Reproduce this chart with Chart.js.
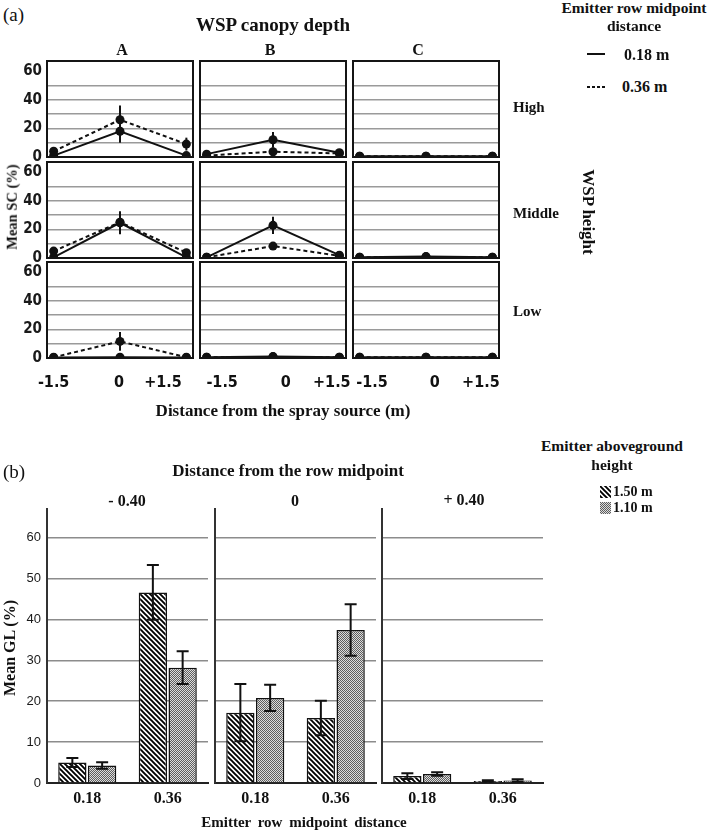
<!DOCTYPE html>
<html><head><meta charset="utf-8">
<script src="https://cdn.jsdelivr.net/npm/chart.js@4.4.1/dist/chart.umd.min.js"></script>
<style>
html,body{margin:0;padding:0;background:#fff;}
#wrap{position:relative;width:709px;height:832px;overflow:hidden;background:#fff;}
.t{position:absolute;font-family:"Liberation Serif","Times New Roman",serif;font-weight:bold;color:#111;white-space:nowrap;line-height:1;}
canvas.c{position:absolute;}
.ln{position:absolute;height:2px;}
</style></head><body><div id="wrap"></div>
<script>
// ---------------- DATA (a) ----------------
const depthCols = ['A', 'B', 'C'];
const heightRows = ['High', 'Middle', 'Low'];
const xPositions = [-1.5, 0, 1.5];
const xTickLabels = ['-1.5', '0', '+1.5'];
const yTickLabelsA = [0, 20, 40, 60];
// Mean SC (%) per row (High, Middle, Low), per column (A, B, C), per position (-1.5, 0, +1.5)
const sc018 = [
  [[1, 18, 1], [2, 12, 3], [0.5, 0.5, 0.5]],
  [[0.5, 24.6, 0.5], [0.5, 22.8, 2], [0.5, 1, 0.5]],
  [[0.3, 0.5, 0.3], [0.5, 1, 0.5], [0.5, 0.5, 0.5]]
];
const sc018err = [
  [[0, 8, 0], [0, 5.5, 0], [0, 0, 0]],
  [[0, 8, 0], [0, 6, 0], [0, 0, 0]],
  [[0, 0, 0], [0, 0, 0], [0, 0, 0]]
];
const sc036 = [
  [[4, 26, 9], [1, 3.7, 2.5], [0.5, 0.5, 0.5]],
  [[4.8, 25, 3.7], [0.5, 8.3, 1.5], [0.5, 0.8, 0.5]],
  [[0.5, 11.6, 0.5], [0.5, 0.8, 0.5], [0.5, 0.5, 0.5]]
];
const sc036err = [
  [[0, 10, 4.5], [0, 0, 0], [0, 0, 0]],
  [[0, 7, 0], [0, 2.8, 0], [0, 0, 0]],
  [[0, 6.5, 0], [0, 0, 0], [0, 0, 0]]
];
const lineSeriesLabels = ['0.18 m', '0.36 m'];
// ---------------- DATA (b) ----------------
const groupLabels = ['- 0.40', '0', '+ 0.40'];
const distCats = ['0.18', '0.36'];
const barSeriesLabels = ['1.50 m', '1.10 m'];
const gl150 = [[5.0, 46.6], [17.2, 15.9], [1.7, 0.5]];
const gl150err = [[1.1, 6.7], [7.0, 4.2], [0.7, 0.2]];
const gl110 = [[4.3, 28.2], [20.8, 37.4], [2.2, 0.6]];
const gl110err = [[0.8, 4.0], [3.2, 6.3], [0.4, 0.3]];

// ---------------- style / layout constants ----------------
// horizontal nudge (in axis units) of the x tick labels, per panel column, as placed in the original figure
const xLabelNudge = [[0, -0.02, -0.53], [0.35, 0.29, -0.17], [0.28, 0.2, -0.26]];

// ---------------- helpers ----------------
const wrap = document.getElementById('wrap');
const NARROW = '"Liberation Sans Narrow","DejaVu Sans Condensed","Liberation Sans",sans-serif';
const SERIF = '"Liberation Serif","Times New Roman",serif';
function T(text, x, y, size, opt) {
  opt = opt || {};
  const d = document.createElement('div');
  d.className = 't';
  d.textContent = text;
  d.style.fontSize = size + 'px';
  if (opt.normal) d.style.fontWeight = 'normal';
  if (opt.ws) d.style.wordSpacing = opt.ws + 'px';
  d.style.left = x + 'px';
  d.style.top = y + 'px';
  let tr = opt.left ? 'translate(0,-50%)' : 'translate(-50%,-50%)';
  if (opt.rot) tr += ' rotate(' + opt.rot + 'deg)';
  d.style.transform = tr;
  wrap.appendChild(d);
  return d;
}
function makeCanvas(left, top, w, h) {
  const c = document.createElement('canvas');
  c.className = 'c';
  c.width = w; c.height = h;
  c.style.left = left + 'px'; c.style.top = top + 'px';
  c.style.width = w + 'px'; c.style.height = h + 'px';
  wrap.appendChild(c);
  return c;
}
function hatchPattern() {
  const s = 5, c = document.createElement('canvas');
  c.width = s; c.height = s;
  const x = c.getContext('2d');
  x.fillStyle = '#fff'; x.fillRect(0, 0, s, s);
  x.strokeStyle = '#000'; x.lineWidth = 1.9;
  x.beginPath();
  x.moveTo(-1, -1); x.lineTo(s + 1, s + 1);
  x.moveTo(s - 1, -1); x.lineTo(s + 1, 1);
  x.moveTo(-1, s - 1); x.lineTo(1, s + 1);
  x.stroke();
  return x.createPattern(c, 'repeat');
}
function stipplePattern() {
  const c = document.createElement('canvas');
  c.width = 2; c.height = 2;
  const x = c.getContext('2d');
  x.fillStyle = '#dcdcdc'; x.fillRect(0, 0, 2, 2);
  x.fillStyle = '#5e5e5e'; x.fillRect(0, 0, 1, 1); x.fillRect(1, 1, 1, 1);
  return x.createPattern(c, 'repeat');
}
const HATCH = hatchPattern();
const STIP = stipplePattern();

const boxPlugin = { id: 'box', afterDraw(chart) {
  const a = chart.chartArea, ctx = chart.ctx;
  ctx.save(); ctx.strokeStyle = '#151515'; ctx.lineWidth = 2;
  ctx.strokeRect(a.left, a.top, a.right - a.left, a.bottom - a.top);
  ctx.restore();
}};
const errPlugin = { id: 'err', afterDatasetsDraw(chart, args, opts) {
  const ctx = chart.ctx, ys = chart.scales.y, cap = (opts && opts.cap) || 0;
  chart.data.datasets.forEach((ds, di) => {
    if (!ds.errors) return;
    const meta = chart.getDatasetMeta(di);
    meta.data.forEach((el, i) => {
      const e = ds.errors[i]; if (!e) return;
      const raw = ds.data[i]; const v = (typeof raw === 'object') ? raw.y : raw;
      const y1 = ys.getPixelForValue(v + e), y2 = ys.getPixelForValue(Math.max(0, v - e));
      ctx.save(); ctx.strokeStyle = '#111'; ctx.lineWidth = 2;
      ctx.beginPath(); ctx.moveTo(el.x, y1); ctx.lineTo(el.x, y2);
      if (cap) { ctx.moveTo(el.x - cap / 2, y1); ctx.lineTo(el.x + cap / 2, y1);
                 ctx.moveTo(el.x - cap / 2, y2); ctx.lineTo(el.x + cap / 2, y2); }
      ctx.stroke(); ctx.restore();
    });
  });
}};

const M = 34;
// ---------------- Part (a) ----------------
const colX = [47, 200, 353], panelW = 146;
const rowY = [61, 162, 262], panelH = 96;
function linePanel(r, c) {
  const isLeft = c === 0, isBottom = r === 2;
  const padL = isLeft ? 47 : 0, padB = isBottom ? 36 : 0;
  const cv = makeCanvas(colX[c] - padL - M, rowY[r] - M, panelW + padL + 2 * M, panelH + padB + 2 * M);
  const mk = (vals, errs, dash, label) => ({
    label, data: xPositions.map((x, i) => ({ x, y: vals[i] })), errors: errs,
    borderColor: '#111', backgroundColor: '#111', borderWidth: 2, borderDash: dash,
    pointRadius: 4.5, pointBackgroundColor: '#111', pointBorderWidth: 0, tension: 0
  });
  const scales = {
    x: { type: 'linear', min: -1.65, max: 1.65, display: isBottom,
         grid: { display: false, drawTicks: false }, border: { display: false },
         afterBuildTicks: s => { s.ticks = xPositions.map((v, i) => ({ value: v + xLabelNudge[c][i] })); },
         ticks: { autoSkip: false, maxRotation: 0, padding: 15, color: '#111',
                  font: { family: NARROW, size: 16, weight: 'bold' },
                  callback: (v, i) => xTickLabels[i] },
         afterFit: s => { s.height = padB; } },
    y: { position: 'left', min: 0, max: 67,
         grid: { color: '#9a9a9a', lineWidth: 1.6, drawTicks: false },
         border: { display: false },
         afterBuildTicks: s => { s.ticks = s.ticks.filter(t => t.value % 10 === 0); },
         ticks: { display: false, stepSize: 10 },
         afterFit: s => { s.width = 0; } }
  };
  if (isLeft) {
    scales.yl = { position: 'left', min: 0, max: 67, axis: 'y',
      grid: { display: false, drawTicks: false }, border: { display: false },
      afterBuildTicks: s => { s.ticks = yTickLabelsA.map(v => ({ value: v })); },
      ticks: { autoSkip: false, padding: 5, color: '#1a1a1a',
               font: { family: NARROW, size: 15, weight: 'bold' } },
      afterFit: s => { s.width = padL; } };
  }
  new Chart(cv, {
    type: 'line',
    data: { datasets: [
      mk(sc018[r][c], sc018err[r][c], [], lineSeriesLabels[0]),
      mk(sc036[r][c], sc036err[r][c], [4, 3], lineSeriesLabels[1])
    ]},
    options: {
      responsive: false, animation: false, events: [],
      layout: { padding: { left: M, right: M, top: M, bottom: M } },
      plugins: { legend: { display: false }, tooltip: { enabled: false }, err: { cap: 0 } },
      scales
    },
    plugins: [boxPlugin, errPlugin]
  });
}
for (let r = 0; r < 3; r++) for (let c = 0; c < 3; c++) linePanel(r, c);

T('(a)', 3, 14, 19, { left: true, normal: true });
T('WSP canopy depth', 273, 24, 19);
T(depthCols[0], 122, 50, 16); T(depthCols[1], 270, 50, 16); T(depthCols[2], 418, 50, 16);
T(heightRows[0], 513, 107, 15, { left: true });
T(heightRows[1], 513, 213, 15, { left: true });
T(heightRows[2], 513, 311, 15, { left: true });
T('WSP height', 588, 212, 17, { rot: 90 });
T('Mean SC (%)', 12, 207, 14.5, { rot: -90 });
T('Emitter row midpoint', 634, 8, 15.5);
T('distance', 634, 26, 15.5);
(function () {
  const a = document.createElement('div'); a.className = 'ln';
  a.style.left = '587px'; a.style.top = '53px'; a.style.width = '18px'; a.style.background = '#111';
  wrap.appendChild(a);
  const b = document.createElement('div'); b.className = 'ln';
  b.style.left = '587px'; b.style.top = '86px'; b.style.width = '19px';
  b.style.background = 'repeating-linear-gradient(90deg,#111 0 3px,transparent 3px 5px)';
  wrap.appendChild(b);
})();
T(lineSeriesLabels[0], 624, 55, 16, { left: true });
T(lineSeriesLabels[1], 622, 87, 16, { left: true });
T('Distance from the spray source (m)', 283, 410, 17);

// ---------------- Part (b) ----------------
const barX = [47, 215, 382], barW = 161, barTop = 509, barH = 274;
function barPanel(g) {
  const isLeft = g === 0;
  const padL = isLeft ? 47 : 0, padB = 30;
  const cv = makeCanvas(barX[g] - padL - M, barTop - M, barW + padL + 2 * M, barH + padB + 2 * M);
  new Chart(cv, {
    type: 'bar',
    data: { labels: distCats, datasets: [
      { label: barSeriesLabels[0], data: gl150[g], errors: gl150err[g], backgroundColor: HATCH,
        borderColor: '#111', borderWidth: 1.5, categoryPercentage: 0.74, barPercentage: 0.95 },
      { label: barSeriesLabels[1], data: gl110[g], errors: gl110err[g], backgroundColor: STIP,
        borderColor: '#111', borderWidth: 1.5, categoryPercentage: 0.74, barPercentage: 0.95 }
    ]},
    options: {
      responsive: false, animation: false, events: [],
      layout: { padding: { left: M, right: M, top: M, bottom: M } },
      plugins: { legend: { display: false }, tooltip: { enabled: false }, err: { cap: 12 } },
      scales: {
        x: { grid: { display: false, drawTicks: false }, border: { display: true, color: '#222', width: 2 },
             ticks: { padding: 6, color: '#111', font: { family: SERIF, size: 16, weight: 'bold' } },
             afterFit: s => { s.height = padB; } },
        y: { min: 0, max: 67,
             grid: { color: '#8c8c8c', lineWidth: 1.5, drawTicks: false },
             border: { display: true, color: '#333', width: 2 },
             afterBuildTicks: s => { s.ticks = s.ticks.filter(t => t.value % 10 === 0); },
             ticks: { display: isLeft, autoSkip: false, stepSize: 10, padding: 6, color: '#1a1a1a',
                      font: { family: '"Liberation Sans","DejaVu Sans",sans-serif', size: 13 } },
             afterFit: s => { s.width = padL; } }
      }
    },
    plugins: [errPlugin]
  });
}
for (let g = 0; g < 3; g++) barPanel(g);

T('(b)', 3, 471, 19, { left: true, normal: true });
T('Distance from the row midpoint', 288, 470, 17);
T(groupLabels[0], 127, 501, 16); T(groupLabels[1], 295, 501, 16); T(groupLabels[2], 464, 500, 16);
T('Emitter aboveground', 612, 446, 15.5);
T('height', 612, 465, 15.5);
(function () {
  const mkSw = (y, pat) => {
    const c = makeCanvas(600, y, 11, 12);
    const x = c.getContext('2d'); x.fillStyle = pat; x.fillRect(0, 0, 11, 12);
  };
  mkSw(486, HATCH); mkSw(502, STIP);
})();
T(barSeriesLabels[0], 613, 492, 14, { left: true });
T(barSeriesLabels[1], 613, 508, 14, { left: true });
T('Mean GL (%)', 10, 648, 16, { rot: -90 });
T('Emitter row midpoint distance', 304, 822, 15, { ws: 3 });
</script></body></html>
